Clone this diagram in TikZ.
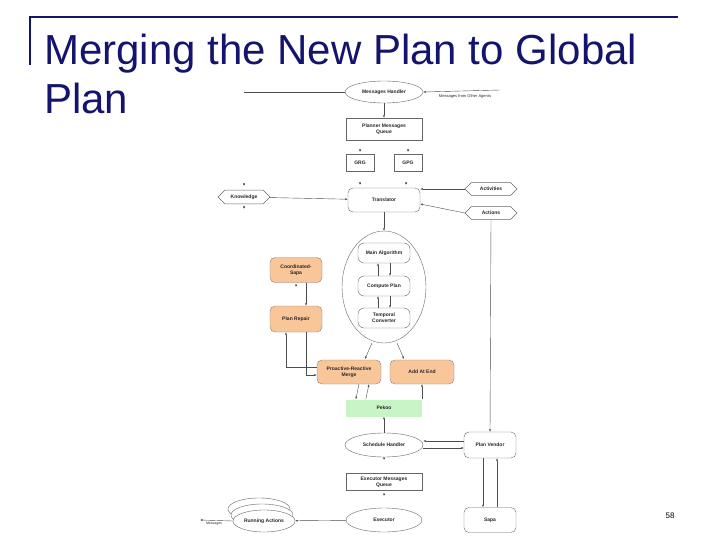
\documentclass[tikz,border=0pt]{standalone}
\usepackage{fontspec}
\setmainfont{Liberation Sans}
\usetikzlibrary{shapes.geometric,shapes.misc,arrows.meta}
\definecolor{navy}{HTML}{14146E}
\definecolor{orng}{HTML}{F9C69A}
\definecolor{grn}{HTML}{C8F5C8}
\begin{document}
\begin{tikzpicture}[x=1pt,y=-1pt,
  t/.style={font=\fontsize{5}{5.6}\selectfont\bfseries,align=center,text=black!85},
  box/.style={t,draw=black!60,line width=0.4pt,minimum width=76pt,minimum height=22pt,inner sep=1pt},
  rbox/.style={box,rounded corners=5pt},
  ell/.style={t,draw=black!60,line width=0.4pt,ellipse,inner sep=0pt},
  hex/.style={t,draw=black!60,line width=0.4pt,chamfered rectangle,chamfered rectangle xsep=4pt,minimum width=52pt,minimum height=12pt,inner sep=1pt},
  ob/.style={rbox,fill=orng,draw=black!50,minimum width=64pt,minimum height=24pt},
  ar/.style={-{Latex[length=2.5pt,width=2pt]},draw=black!70,line width=0.4pt},
  ln/.style={draw=black!70,line width=0.4pt}]
\useasboundingbox (0,0) rectangle (720,540);
\draw[navy,line width=1.6pt] (30,65) -- (30,17) -- (678,17);
\node[anchor=north west,text=navy,font=\fontsize{42}{49}\selectfont,align=left,inner sep=0pt] (title) at (44,34) {Merging the New Plan to Global\\Plan};
\node[font=\fontsize{8}{9}\selectfont] (pg) at (670,516) {58};

\node[ell,minimum width=78pt,minimum height=22pt] (mh) at (384,92) {Messages Handler};
\coordinate (mhl) at (244,92);
\coordinate (mhr) at (500,90);
\draw[ln] (mhl) -- (mh.west);
\draw[ar] (mhr) -- (mh.east);
\node[t,font=\fontsize{4}{5}\selectfont] (mfo) at (465,96) {Messages from Other Agents};
\node[box,minimum height=22pt] (pmq) at (384,129) {Planner Messages\\Queue};
\draw[ar] (mh) -- (pmq);
\node[box,minimum width=28pt,minimum height=17pt] (grg) at (360,163) {GRG};
\node[box,minimum width=28pt,minimum height=17pt] (gpg) at (408,163) {GPG};
\node[rbox,minimum width=72pt,minimum height=24pt] (tr) at (384,200) {Translator};
\foreach \n/\x/\y in {a/360/152,b/408/152,c/360/185,d/406/185,e/244/186,f/244/209,g/296/287,h/384/460,i/384/496,j/417/404}
  \draw[ar] (\x,\y-2) coordinate (s\n) -- (\x,\y) coordinate (e\n);
\node[hex] (kn) at (244,197) {Knowledge};
\node[hex] (act) at (491,189) {Activities};
\node[hex] (acn) at (491,213) {Actions};
\draw[ar] (kn) -- (tr);
\draw[ar] (act.west) -- (tr.east|-act.west) ;
\draw[ar] (acn.west) -- ([yshift=-4pt]tr.east);
\node[ell,minimum width=84pt,minimum height=112pt] (big) at (384,287) {};
\draw[ar] (tr) -- (big.north);
\node[rbox,minimum width=52pt,minimum height=20pt,rounded corners=6pt] (ma) at (384,253) {Main Algorithm};
\node[rbox,minimum width=52pt,minimum height=20pt,rounded corners=6pt] (cp) at (384,286) {Compute Plan};
\node[rbox,minimum width=52pt,minimum height=20pt,rounded corners=6pt] (tc) at (384,318) {Temporal\\Converter};
\draw[ar] ([xshift=-6pt]cp.north) -- ([xshift=-6pt]ma.south);
\draw[ar] ([xshift=6pt]ma.south) -- ([xshift=6pt]cp.north);
\draw[ar] ([xshift=-6pt]tc.north) -- ([xshift=-6pt]cp.south);
\draw[ar] ([xshift=6pt]cp.south) -- ([xshift=6pt]tc.north);
\node[ob,minimum width=52pt,minimum height=25pt] (cs) at (296,270) {Coordinated-\\Sapa};
\node[ob,minimum width=52pt,minimum height=26pt] (pr) at (296,319) {Plan Repair};
\draw[ar] ([xshift=10pt]cs.south) -- ([xshift=10pt]pr.north);
\node[ob] (prm) at (349,372) {Proactive-Reactive\\Merge};
\node[ob] (aae) at (422,372) {Add At End};
\draw[ar] ([xshift=10pt]pr.south) |- ([yshift=-3pt]prm.west);
\draw[ar] ([yshift=5pt]prm.west) -| ([xshift=-10pt]pr.south);
\coordinate (bsw) at (372,343);
\coordinate (bse) at (397,343);
\draw[ar] (bsw) -- (365,359);
\draw[ar] (bse) -- (404,359);
\node[box,fill=grn,draw=none,minimum width=76pt,minimum height=17pt] (pk) at (384,408) {Pekoo};
\draw[ar] ([xshift=10pt]prm.south) -- ([xshift=10pt]pk.north west);
\draw[ar] ([xshift=20pt]pk.north west) -- ([xshift=20pt]prm.south);
\draw[ar] (pk.north -| aae) -- (aae.south);
\node[ell,minimum width=78pt,minimum height=24pt] (sh) at (384,445) {Schedule Handler};
\node[rbox,minimum width=52pt,minimum height=26pt] (pv) at (490,445) {Plan Vendor};
\draw[ar] (sh.north) -- (pk.south);
\draw[ar] ([yshift=-3pt]sh.east) -- ([yshift=-3pt]pv.west);
\draw[ar] ([yshift=4pt]pv.west) -- ([yshift=4pt]sh.east);
\draw[ar] (acn.south) -- (pv.north);
\node[box,minimum height=17pt] (emq) at (384,482) {Executor Messages\\Queue};
\node[ell,minimum width=76pt,minimum height=24pt] (ex) at (384,520) {Executor};
\node[rbox,minimum width=52pt,minimum height=25pt] (sp) at (490,520) {Sapa};
\draw[ar] ([xshift=-7pt]pv.south) -- ([xshift=-7pt]sp.north);
\draw[ar] ([xshift=7pt]sp.north) -- ([xshift=7pt]pv.south);
\node[ell,minimum width=62pt,minimum height=22pt] (ra3) at (259,509) {};
\node[ell,minimum width=62pt,minimum height=22pt,fill=white] (ra2) at (262,515) {};
\node[ell,minimum width=62pt,minimum height=22pt,fill=white] (ra) at (264,521) {Running Actions};
\draw[ar] (ex) -- (ra);
\node[t,font=\fontsize{3.5}{4}\selectfont\mdseries] (msg) at (214,524) {Messages};
\coordinate (ml) at (200,520);
\draw[ar] (ra.west) -- (ml);
\end{tikzpicture}
\end{document}
